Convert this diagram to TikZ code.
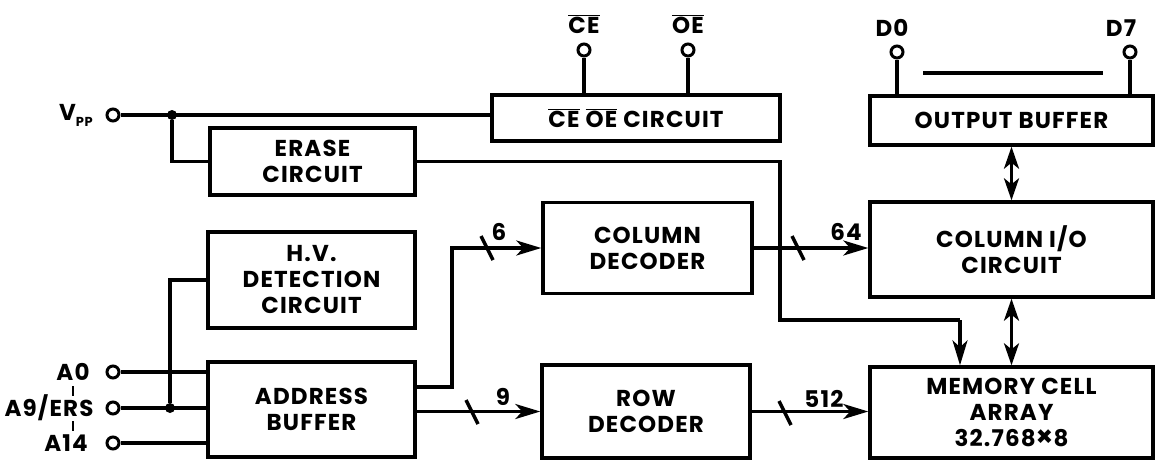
\documentclass[tikz,border=0pt]{standalone}
\usepackage{fontspec}
\setmainfont{Poppins}[LetterSpace=5]
\usetikzlibrary{arrows.meta}
\newcommand\ovl[1]{$\overline{\hbox{#1}}$}
\begin{document}
\begin{tikzpicture}[x=1pt,y=-1pt,
  txt/.style={font=\bfseries\fontsize{23}{26}\selectfont, align=center, inner sep=0pt},
  blk/.style={txt, draw, line width=3.4pt, minimum width=#1, inner sep=0pt},
  pin/.style={circle, draw, line width=3pt, minimum size=12pt, inner sep=0pt, fill=white},
  wire/.style={line width=3.4pt},
  arr/.style={wire, -{Stealth[length=25pt,width=15pt,inset=7pt]}},
  barr/.style={wire, {Stealth[length=22pt,width=15pt,inset=6pt]}-{Stealth[length=22pt,width=15pt,inset=6pt]}},
  dot/.style={circle, fill, minimum size=10pt, inner sep=0pt},
  tick/.style={line width=2.6pt}
]
\useasboundingbox (0,0) rectangle (1157,464);

% blocks
\node[blk=205pt, minimum height=67pt] (erase) at (312.5,161.5) {ERASE\\CIRCUIT};
\node[blk=288pt, minimum height=46pt] (ceoe) at (636,118) {\ovl{CE} \ovl{OE} CIRCUIT};
\node[blk=283pt, minimum height=49pt] (outbuf) at (1011.5,120.5) {OUTPUT BUFFER};
\node[blk=283pt, minimum height=95pt] (colio) at (1011.5,249.5) {COLUMN I/O\\CIRCUIT};
\node[blk=283pt, minimum height=91pt] (mem) at (1011.5,412.5) {MEMORY CELL\\ARRAY\\32.768{\fontsize{28}{26}\selectfont ×}8};
\node[blk=207pt, minimum height=96pt] (hv) at (311.5,280) {H.V.\\DETECTION\\CIRCUIT};
\node[blk=207pt, minimum height=95pt] (addr) at (311.5,409.5) {ADDRESS\\BUFFER};
\node[blk=209pt, minimum height=91pt] (coldec) at (647.5,248) {COLUMN\\DECODER};
\node[blk=208pt, minimum height=93pt] (rowdec) at (646,411.5) {ROW\\DECODER};

% pins
\node[pin] (vpp) at (113,115) {};
\node[txt, anchor=east] (vppl) at (93,115) {V\raisebox{-6pt}{\fontsize{13}{14}\selectfont PP}};
\node[pin] (ce) at (584,50) {};
\node[txt] (cel) at (584,24) {\ovl{CE}};
\node[pin] (oe) at (688,50) {};
\node[txt] (oel) at (688,24) {\ovl{OE}};
\node[pin] (d0) at (897,52) {};
\node[txt] (d0l) at (892,28) {D0};
\node[pin] (d7) at (1130,52) {};
\node[txt] (d7l) at (1121,28) {D7};
\node[pin] (a0) at (113,372) {};
\node[txt] (a0l) at (73,372) {A0};
\node[pin] (a9) at (113,408) {};
\node[txt] (a9l) at (49,408) {A9/ERS};
\node[pin] (a14) at (113,443) {};
\node[txt] (a14l) at (66,443) {A14};
\draw[tick] (73,386) -- (73,396);
\draw[tick] (73,421) -- (73,431);

% junctions
\node[dot] (j1) at (172,115) {};
\node[dot] (j2) at (170,408) {};

% Vpp wiring
\draw[wire] (vpp) -- (vpp -| ceoe.west);
\draw[wire] (j1) |- (erase.west);
\draw[wire] (ce) -- (ce |- ceoe.north);
\draw[wire] (oe) -- (oe |- ceoe.north);
\draw[wire] (d0) -- (d0 |- outbuf.north);
\draw[wire] (d7) -- (d7 |- outbuf.north);
\coordinate (bus1) at (923,73);
\coordinate (bus2) at (1103,73);
\draw[wire] (bus1) -- (bus2);

% erase to memory
\coordinate (e1) at (780,161.5);
\coordinate (e2) at (780,320);
\coordinate (e3) at (960,320);
\draw[wire] (erase.east) -- (e1) -- (e2) -- (e3);
\draw[arr] (e3) -- (e3 |- mem.north);

% address inputs
\draw[wire] (a0) -- (a0 -| addr.west);
\draw[wire] (a9) -- (a9 -| addr.west);
\draw[wire] (a14) -- (a14 -| addr.west);
\draw[wire] (j2) |- (hv.west);

% address buffer to decoders
\coordinate (c1) at (415,387);
\coordinate (c2) at (452,387);
\draw[arr] (c1) -- (c2) |- (coldec.west);
\draw[arr] (addr.east |- rowdec.west) -- (rowdec.west);
\draw[arr] (coldec.east) -- (coldec.east -| colio.west);
\draw[arr] (rowdec.east) -- (rowdec.east -| mem.west);

% bus slashes and widths
\draw[wire] (481,236) -- (493,260);
\node[txt] (n6) at (499,232) {6};
\draw[wire] (466,400) -- (478,424);
\node[txt] (n9) at (503,397) {9};
\draw[wire] (792,236) -- (804,260);
\node[txt] (n64) at (846,232) {64};
\draw[wire] (779,401) -- (791,425);
\node[txt] (n512) at (824,399) {512};

% bidirectional
\draw[barr] (outbuf.south) -- (colio.north);
\draw[barr] (colio.south) -- (mem.north);
\end{tikzpicture}
\end{document}
